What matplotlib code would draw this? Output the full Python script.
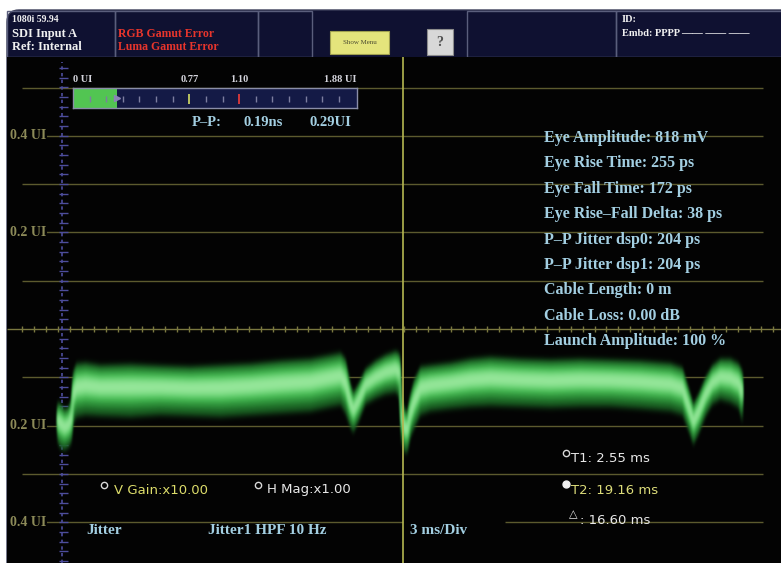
import matplotlib
matplotlib.use("Agg")
import matplotlib.pyplot as plt
from matplotlib.patches import Rectangle, FancyBboxPatch
import numpy as np

# ---------------- data ----------------
# jitter trace envelope: time (ms) vs. jitter (UI)
trace_t = [1.75, 1.90, 2.10, 2.30, 2.45, 2.55, 2.70, 3.16, 3.91, 5.42, 6.93, 8.44,
           9.95, 11.46, 12.97, 14.48, 15.49, 15.99, 16.24, 16.49, 16.64, 16.89, 17.25,
           17.75, 18.25, 18.76, 18.96, 19.06, 19.21, 19.36, 19.51, 19.71, 20.02, 20.52,
           21.52, 22.53, 23.54, 25.05, 26.56, 28.07, 29.58, 31.09, 32.60, 33.20, 33.45,
           33.75, 34.01, 34.36, 34.71, 35.11, 35.62, 36.02, 36.22]
trace_top = [-0.153, -0.157, -0.168, -0.164, -0.147, -0.089, -0.074, -0.072, -0.077,
             -0.075, -0.078, -0.080, -0.077, -0.074, -0.068, -0.064, -0.056, -0.052,
             -0.064, -0.116, -0.133, -0.116, -0.085, -0.068, -0.056, -0.048, -0.052,
             -0.137, -0.168, -0.172, -0.137, -0.106, -0.080, -0.077, -0.072, -0.064,
             -0.060, -0.064, -0.066, -0.064, -0.066, -0.068, -0.073, -0.082, -0.116,
             -0.157, -0.137, -0.102, -0.077, -0.064, -0.064, -0.073, -0.089]
trace_bot = [-0.230, -0.242, -0.246, -0.240, -0.230, -0.188, -0.176, -0.172, -0.174,
             -0.176, -0.172, -0.174, -0.176, -0.172, -0.168, -0.164, -0.155, -0.151,
             -0.168, -0.199, -0.209, -0.188, -0.151, -0.139, -0.130, -0.126, -0.137,
             -0.230, -0.251, -0.251, -0.219, -0.199, -0.172, -0.164, -0.159, -0.155,
             -0.153, -0.155, -0.157, -0.155, -0.155, -0.159, -0.164, -0.172, -0.199,
             -0.234, -0.213, -0.176, -0.151, -0.141, -0.147, -0.157, -0.188]

grid_ui = [0.5, 0.4, 0.3, 0.2, 0.1, -0.1, -0.2, -0.3, -0.4]
label_ui = [0.4, 0.2, -0.2, -0.4]
t1_ms, t2_ms, delta_ms = 2.55, 19.16, 16.60
ms_per_div = 3

# eye-meter
meter_max = 1.88
meter_marks = [0.77, 1.10]
meter_step = 0.11
pp_ui = 0.29
pp_ns = 0.19

readouts = ["Eye Amplitude: 818 mV", "Eye Rise Time: 255 ps", "Eye Fall Time: 172 ps",
            "Eye Rise\u2013Fall Delta: 38 ps", "P\u2013P Jitter dsp0: 204 ps",
            "P\u2013P Jitter dsp1: 204 ps", "Cable Length: 0 m", "Cable Loss: 0.00 dB",
            "Launch Amplitude: 100 %"]
v_gain = 10.00
h_mag = 1.00


class Glow:
    """Anisotropic gaussian blur (premultiplied) used as an agg filter for the trace."""

    def __init__(self, sx, sy):
        self.sx, self.sy = sx, sy

    @staticmethod
    def _kernel(s):
        r = max(1, int(3 * s))
        x = np.arange(-r, r + 1)
        k = np.exp(-0.5 * (x / s) ** 2)
        return r, k / k.sum()

    def __call__(self, im, dpi):
        rx, kx = self._kernel(self.sx)
        ry, ky = self._kernel(self.sy)
        im = np.pad(im, ((ry, ry), (rx, rx), (0, 0)))
        a = im[..., 3:4]
        pm = np.concatenate([im[..., :3] * a, a], axis=2)
        out = np.zeros_like(pm)
        for i, w in enumerate(ky):
            out += w * np.roll(pm, i - ry, axis=0)
        pm2 = np.zeros_like(out)
        for i, w in enumerate(kx):
            pm2 += w * np.roll(out, i - rx, axis=1)
        a2 = pm2[..., 3:4]
        rgb = np.where(a2 > 1e-6, pm2[..., :3] / np.maximum(a2, 1e-6), 0)
        res = np.concatenate([rgb, a2], axis=2)
        return np.clip(res, 0, 1), -rx, -ry


# ---------------- layout ----------------
W, H = 781, 563
fig = plt.figure(figsize=(W / 100, H / 100), dpi=100)
fig.patch.set_facecolor("white")

SERIF = "Liberation Serif"
SANS = "DejaVu Sans"
BLUE = "#a3cfe2"
OLIVE = "#5c5a2e"

bg = fig.add_axes([0, 0, 1, 1], zorder=0)
bg.set_xlim(0, W); bg.set_ylim(H, 0); bg.axis("off")
bg.add_patch(FancyBboxPatch((7, 10), 800, 580, boxstyle="round,pad=0,rounding_size=12",
                            fc="#0f1131", ec="#3a3d58", lw=1))
for x0, w in [(7, 108), (115, 143), (258, 54), (467, 149), (616, 180)]:
    bg.add_patch(Rectangle((x0, 11), w, 46, fc="none", ec="#5a5e7c", lw=1))
bg.add_patch(Rectangle((330, 31), 59, 23, fc="#e4e47c", ec="#a0a050", lw=0.8))
bg.text(359.5, 43, "Show Menu", fontsize=5, color="#4a4a30", family=SERIF,
        ha="center", va="center")
bg.add_patch(Rectangle((427, 29), 26, 26, fc="#d8d8d8", ec="#8c8c8c", lw=0.8))
bg.text(440, 42.5, "?", fontsize=10, color="#505050", family=SERIF, weight="bold",
        ha="center", va="center")
hdr = dict(family=SERIF, weight="bold", va="center", color="#f0f0f0")
bg.text(12, 20, "1080i 59.94", fontsize=7, **hdr)
bg.text(12, 34, "SDI Input A", fontsize=9, **hdr)
bg.text(12, 46.5, "Ref: Internal", fontsize=9, **hdr)
bg.text(118, 34, "RGB Gamut Error", fontsize=8.5, **{**hdr, "color": "#e8352c"})
bg.text(118, 46.5, "Luma Gamut Error", fontsize=8.5, **{**hdr, "color": "#e8352c"})
bg.text(622, 20, "ID:", fontsize=7.5, **hdr)
bg.text(622, 33, "Embd: PPPP \u2014\u2014 \u2014\u2014 \u2014\u2014", fontsize=7.5, **hdr)

# ---------------- waveform axes (ms, UI) ----------------
x_px0, px_per_ms = 22.3, 19.87
ui_px0, px_per_ui = 329, 483
ax = fig.add_axes([7 / W, 0, (W - 7) / W, (H - 57) / H], zorder=1)
ax.set_xlim((7 - x_px0) / px_per_ms, (W - x_px0) / px_per_ms)
ax.set_ylim((ui_px0 - H) / px_per_ui, (ui_px0 - 57) / px_per_ui)
ax.set_facecolor("#030303")
for s in ax.spines.values():
    s.set_visible(False)
ax.set_xticks([]); ax.set_yticks([])

x_end = (763 - x_px0) / px_per_ms
for g in grid_ui:
    if g == -0.4:
        ax.hlines(g, 0, t2_ms, color=OLIVE, lw=1, zorder=1)
        ax.hlines(g, 24.3, x_end, color=OLIVE, lw=1, zorder=1)
    else:
        ax.hlines(g, 0, x_end, color=OLIVE, lw=1, zorder=1)
xmin, xmax = ax.get_xlim()
ax.hlines(0, xmin, xmax, color="#7a7840", lw=1, zorder=1)
minor = ms_per_div / 5
ticks_x = np.arange(0, xmax, minor)
ax.vlines(ticks_x, -0.007, 0.007, color="#7a7840", lw=1, zorder=1)

# vertical UI ruler
ax.vlines(2.0, ax.get_ylim()[0], 0.553, color="#4d4d9c", lw=1.2, ls=(0, (2, 2)), zorder=1)
ax.hlines(np.arange(-0.48, 0.55, 0.02), 1.85, 2.3, color="#4d4d9c", lw=1, zorder=1)

for v in label_ui:
    ax.text(-0.62, v, f"{abs(v):.1f} UI", color="#8c8a58", fontsize=10, family=SERIF,
            weight="bold", va="center", ha="left", zorder=2,
            bbox=dict(fc="#030303", ec="none", pad=0.5))

# glowing jitter band
t = np.array(trace_t)
top = np.array(trace_top)
bot = np.array(trace_bot)
h = top - bot
for f_up, f_dn, col in [(-0.03, -0.05, "#1a5e22"), (0.05, 0.11, "#2c8c38"),
                        (0.14, 0.24, "#44b851"), (0.23, 0.35, "#6ed678"),
                        (0.32, 0.44, "#98e89c")]:
    pc = ax.fill_between(t, top - f_up * h, bot + f_dn * h, color=col, lw=0, zorder=3)
    pc.set_agg_filter(Glow(0.8, 2.2))

# T2 cursor line
ax.axvline(t2_ms, color="#b4b650", lw=1.2, zorder=4)

# ---------------- foreground text ----------------
fg = fig.add_axes([0, 0, 1, 1], zorder=3)
fg.set_xlim(0, W); fg.set_ylim(H, 0); fg.axis("off")
fg.patch.set_alpha(0)

ro = dict(family=SERIF, weight="bold", fontsize=11.5, color=BLUE, va="center")
for i, s in enumerate(readouts):
    fg.text(544, 138 + i * 25.4, s, **ro)
fg.text(192, 123, "P\u2013P:", **{**ro, "fontsize": 10.5})
fg.text(243, 123, f"{pp_ns:.2f}ns", **{**ro, "fontsize": 10.5})
fg.text(310, 123, f"{pp_ui:.2f}UI", **{**ro, "fontsize": 10.5})

fg.text(86, 530, "Jitter", **{**ro, "fontsize": 11})
fg.text(208, 530, "Jitter1 HPF 10 Hz", **{**ro, "fontsize": 11})
fg.text(410, 530, f"{ms_per_div} ms/Div", **{**ro, "fontsize": 11})

cu = dict(family=SANS, fontsize=9.5, va="center")
fg.plot(104, 485, "o", ms=4.5, mfc="none", mec="#d8d8d8", mew=1)
fg.text(114, 490, f"V Gain:x{v_gain:.2f}", color="#dcdc6a", **cu)
fg.plot(258, 485, "o", ms=4.5, mfc="none", mec="#d8d8d8", mew=1)
fg.text(267, 490, f"H Mag:x{h_mag:.2f}", color="#e8e8e8", **cu)
fg.plot(566, 453, "o", ms=4.5, mfc="none", mec="#d8d8d8", mew=1)
fg.text(571, 459, f"T1: {t1_ms:.2f} ms", color="#e8e8e8", **cu)
fg.plot(566, 484, "o", ms=5, mfc="#f0f0f0", mec="#f0f0f0", mew=1)
fg.text(571, 490, f"T2: {t2_ms:.2f} ms", color="#dcdc7a", **cu)
fg.text(569, 514, "\u25b3", color="#e8e8e8", family=SANS, fontsize=8, va="center")
fg.text(580, 521, f": {delta_ms:.2f} ms", color="#e8e8e8", **cu)

# ---------------- eye meter ----------------
mx = fig.add_axes([73 / W, (H - 108) / H, 284 / W, 20 / H], zorder=4)
mx.set_xlim(0, meter_max); mx.set_ylim(0, 1)
mx.set_facecolor("#141a46")
for s in mx.spines.values():
    s.set_color("#8a8ea8"); s.set_linewidth(1)
mx.set_xticks([]); mx.set_yticks([])
mx.barh(0.5, pp_ui, height=1.0, left=0, color="#52c552", zorder=2)
mticks = np.arange(meter_step, meter_max - 0.05, meter_step)
mx.vlines([m for m in mticks if min(abs(m - k) for k in meter_marks) > 0.01],
          0.3, 0.62, color="#7c7ea0", lw=1, zorder=3)
mx.vlines(meter_marks[0], 0.22, 0.72, color="#c6cf62", lw=1.3, zorder=3)
mx.vlines(meter_marks[1], 0.22, 0.72, color="#e03a3a", lw=1.3, zorder=3)
mx.plot(pp_ui, 0.5, ">", ms=4, color="#8c84b8", zorder=4, clip_on=False)
ml = dict(family=SERIF, weight="bold", fontsize=7.5, color="#d4d4dc", va="center")
mx.text(0, 1.42, "0 UI", ha="left", **ml)
mx.text(meter_marks[0], 1.42, f"{meter_marks[0]:.2f}", ha="center", **ml)
mx.text(meter_marks[1], 1.42, f"{meter_marks[1]:.2f}", ha="center", **ml)
mx.text(meter_max, 1.42, f"{meter_max:.2f} UI", ha="right", **ml)

fig.savefig("out.png", dpi=100, facecolor="white")
